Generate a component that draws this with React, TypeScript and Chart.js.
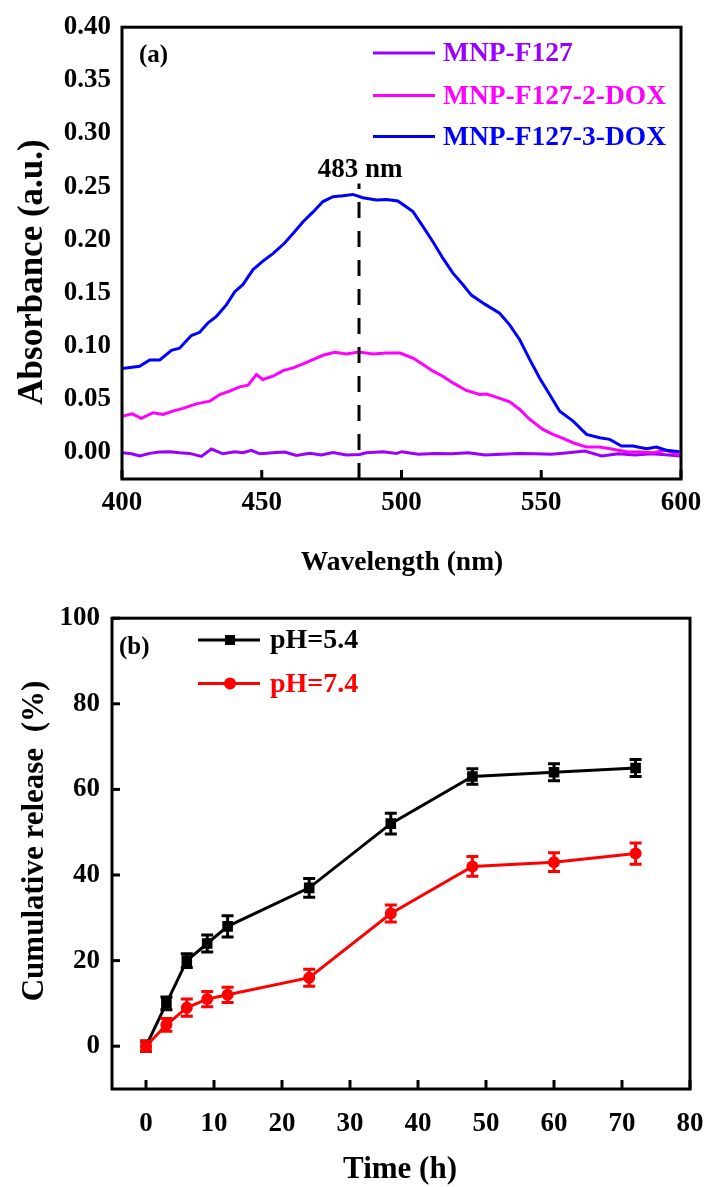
import React, { useEffect, useRef } from "react";
import { Chart, registerables } from "chart.js";
Chart.register(...registerables);

const FONT = "'Liberation Serif', 'Times New Roman', serif";

// ---------- Panel (a): UV-vis spectra ----------
const wlF127 = [400, 403.4, 406.3, 409.9, 413.5, 417.1, 420.6, 424.2, 428.4, 432.0, 436.1, 440.3, 443.3, 446.3, 449.3, 454.0, 458.2, 462.4, 467.2, 471.3, 475.5, 480.3, 485.0, 487.4, 493.4, 498.2, 500.1, 506.0, 512.0, 518.0, 523.9, 529.9, 535.8, 541.8, 547.8, 553.7, 559.7, 565.6, 571.6, 577.6, 583.5, 589.5, 595.5, 599.9];
const absF127 = [-0.0003, -0.0013, -0.0034, -0.0009, 0.0003, 0.0006, -0.0003, -0.0009, -0.0037, 0.0032, -0.0013, 0.0006, -0.0003, 0.0019, -0.0013, -0.0003, 0.0003, -0.0028, -0.0009, -0.0025, 0.0, -0.0025, -0.0019, -0.0003, 0.0006, -0.0009, 0.0007, -0.0018, -0.0009, -0.0012, -0.0003, -0.0024, -0.0018, -0.0009, -0.0012, -0.0018, -0.0003, 0.0013, -0.0034, -0.0012, -0.0024, -0.0012, -0.0024, -0.0034];

const wl2DOX = [400, 403.7, 406.9, 411.1, 414.7, 418.2, 421.8, 426.6, 431.4, 435.0, 438.5, 442.1, 445.1, 448.1, 450.4, 454.0, 457.6, 461.2, 464.8, 468.3, 471.9, 476.1, 480.3, 484.8, 489.8, 494.6, 499.5, 504.1, 507.7, 511.3, 514.8, 518.4, 523.2, 528.0, 530.4, 533.9, 538.7, 542.3, 545.9, 550.6, 554.2, 557.8, 561.4, 566.2, 570.9, 575.7, 580.5, 585.2, 590.0, 594.7, 599.5];
const abs2DOX = [0.0341, 0.0363, 0.032, 0.0373, 0.0357, 0.0388, 0.0414, 0.0457, 0.0482, 0.0545, 0.0576, 0.0617, 0.0632, 0.0733, 0.0686, 0.0717, 0.077, 0.0795, 0.0832, 0.0873, 0.0914, 0.0942, 0.0926, 0.0945, 0.0926, 0.0935, 0.0935, 0.0888, 0.0826, 0.0764, 0.0717, 0.0654, 0.0583, 0.0545, 0.055, 0.052, 0.0476, 0.0404, 0.031, 0.0217, 0.017, 0.0132, 0.0091, 0.005, 0.005, 0.003, 0.0007, 0.0005, -0.0003, 0.002, -0.0025];

const wl3DOX = [400.1, 406.3, 409.9, 413.5, 417.7, 420.6, 424.8, 427.8, 430.8, 433.8, 437.4, 440.3, 443.3, 446.9, 450.4, 454.0, 458.2, 461.2, 464.8, 468.3, 471.9, 475.5, 479.1, 482.6, 486.2, 491.0, 494.6, 498.7, 502.3, 504.1, 507.7, 511.3, 514.8, 518.4, 522.0, 525.0, 529.8, 535.1, 538.7, 542.3, 545.9, 549.4, 553.0, 556.6, 561.4, 566.2, 570.9, 574.5, 578.7, 582.8, 587.6, 591.2, 594.7, 599.5];
const abs3DOX = [0.079, 0.081, 0.087, 0.087, 0.096, 0.098, 0.11, 0.113, 0.122, 0.128, 0.139, 0.151, 0.158, 0.172, 0.18, 0.187, 0.197, 0.206, 0.217, 0.226, 0.236, 0.2405, 0.2415, 0.2427, 0.2396, 0.2374, 0.238, 0.2365, 0.23, 0.2265, 0.2124, 0.198, 0.1827, 0.1686, 0.1577, 0.148, 0.1395, 0.131, 0.12, 0.106, 0.0873, 0.07, 0.0545, 0.0388, 0.0295, 0.017, 0.0138, 0.0123, 0.006, 0.006, 0.0035, 0.005, 0.002, 0.0007];

const namesA = ["MNP-F127", "MNP-F127-2-DOX", "MNP-F127-3-DOX"];
const colorsA = ["#9a00ff", "#ff00ff", "#0000ff"];
const xTicksA = [400, 450, 500, 550, 600];
const yTicksA = [0, 0.05, 0.1, 0.15, 0.2, 0.25, 0.3, 0.35, 0.4];
const xRangeA = [400, 600];
const yRangeA = [-0.025, 0.4];
const peakX = [484.8, 484.8];
const peakY = [-0.025, 0.253];
const peakLabel = "483 nm";

// ---------- Panel (b): drug release ----------
const timeH = [0, 3, 6, 9, 12, 24, 36, 48, 60, 72];
const releasePH54 = [0, 10, 20, 24, 28, 37, 52, 63, 64, 65];
const errPH54 = [1.2, 1.5, 1.6, 2.0, 2.5, 2.2, 2.4, 1.8, 2.0, 2.0];
const releasePH74 = [0, 5, 9, 11, 12, 16, 31, 42, 43, 45];
const errPH74 = [1.2, 1.5, 2.0, 1.8, 1.8, 2.0, 2.0, 2.3, 2.2, 2.5];
const namesB = ["pH=5.4", "pH=7.4"];
const xTicksB = [0, 10, 20, 30, 40, 50, 60, 70, 80];
const yTicksB = [0, 20, 40, 60, 80, 100];
const xRangeB = [-5, 80];
const yRangeB = [-10, 100];

function text(ctx: CanvasRenderingContext2D, s: string, x: number, y: number, size: number, color = "#000", align: CanvasTextAlign = "left", rot = 0) {
  ctx.save();
  ctx.font = `bold ${size}px ${FONT}`;
  ctx.fillStyle = color;
  ctx.textAlign = align;
  ctx.textBaseline = "middle";
  ctx.translate(x, y);
  if (rot) ctx.rotate(rot);
  ctx.fillText(s, 0, 0);
  ctx.restore();
}

function frameAndTicks(chart: any, xLen: number, yLen: number) {
  const ctx = chart.ctx as CanvasRenderingContext2D;
  const a = chart.chartArea;
  const xs = chart.scales.x;
  const ys = chart.scales.y;
  ctx.save();
  ctx.strokeStyle = "#000";
  ctx.lineWidth = 3;
  if (xLen > 0) {
    for (const t of xs.ticks) {
      const px = xs.getPixelForValue(t.value);
      ctx.beginPath();
      ctx.moveTo(px, a.bottom);
      ctx.lineTo(px, a.bottom - xLen);
      ctx.stroke();
    }
  }
  if (yLen > 0) {
    for (const t of ys.ticks) {
      const py = ys.getPixelForValue(t.value);
      ctx.beginPath();
      ctx.moveTo(a.left, py);
      ctx.lineTo(a.left + yLen, py);
      ctx.stroke();
    }
  }
  ctx.strokeRect(a.left, a.top, a.right - a.left, a.bottom - a.top);
  ctx.restore();
}

const noPad = (s: any) => {
  s.paddingLeft = 0;
  s.paddingRight = 0;
};

function ChartA() {
  const ref = useRef<HTMLCanvasElement>(null);
  useEffect(() => {
    const toPts = (xs: number[], ys: number[]) => xs.map((x, i) => ({ x, y: ys[i] }));
    const series = [toPts(wlF127, absF127), toPts(wl2DOX, abs2DOX), toPts(wl3DOX, abs3DOX)];
    const plugin = {
      id: "decorA",
      afterDraw(chart: any) {
        const ctx = chart.ctx as CanvasRenderingContext2D;
        frameAndTicks(chart, 9, 0);
        const rows = [53, 95.5, 136.5];
        rows.forEach((y, i) => {
          ctx.save();
          ctx.strokeStyle = colorsA[i];
          ctx.lineWidth = 3;
          ctx.beginPath();
          ctx.moveTo(373, y);
          ctx.lineTo(435, y);
          ctx.stroke();
          ctx.restore();
          text(ctx, namesA[i], 443, y + 1, 27.5, colorsA[i]);
        });
        text(ctx, "(a)", 139, 56, 25);
        const xs = chart.scales.x;
        text(ctx, peakLabel, xs.getPixelForValue(peakX[0]) + 1, 170, 27, "#000", "center");
        text(ctx, "Absorbance (a.u.)", 33, 272, 35, "#000", "center", -Math.PI / 2);
        text(ctx, "Wavelength (nm)", 402, 563, 27.5, "#000", "center");
      },
    };
    const chart = new Chart(ref.current!, {
      type: "line",
      data: {
        datasets: [
          ...series.map((d, i) => ({
            label: namesA[i],
            data: d,
            borderColor: colorsA[i],
            borderWidth: 3,
            pointRadius: 0,
            tension: 0,
            order: 3 - i,
          })),
          {
            label: "peak",
            data: toPts(peakX, peakY),
            borderColor: "#000",
            borderWidth: 3,
            borderDash: [16, 13],
            pointRadius: 0,
            order: 0,
          },
        ],
      },
      options: {
        animation: false,
        responsive: false,
        events: [],
        layout: { padding: { left: 0, top: 25, right: 23, bottom: 0 } },
        plugins: { legend: { display: false }, tooltip: { enabled: false } },
        scales: {
          x: {
            type: "linear",
            min: xRangeA[0],
            max: xRangeA[1],
            grid: { display: false, drawTicks: false },
            border: { display: false },
            afterBuildTicks: (s: any) => { s.ticks = xTicksA.map((v) => ({ value: v })); },
            afterFit: (s: any) => { s.height = 111; noPad(s); },
            ticks: { color: "#000", padding: 8, font: { family: FONT, size: 27, weight: "bold" }, callback: (v: any) => String(v), maxRotation: 0 },
          },
          y: {
            type: "linear",
            min: yRangeA[0],
            max: yRangeA[1],
            grid: { display: false, drawTicks: false },
            border: { display: false },
            afterBuildTicks: (s: any) => { s.ticks = yTicksA.map((v) => ({ value: v })); },
            afterFit: (s: any) => { s.width = 122; },
            ticks: { color: "#000", padding: 11, font: { family: FONT, size: 27, weight: "bold" }, callback: (v: any) => Number(v).toFixed(2) },
          },
        },
      },
      plugins: [plugin],
    } as any);
    return () => chart.destroy();
  }, []);
  return <canvas ref={ref} width={704} height={590} style={{ position: "absolute", left: 0, top: 0, width: 704, height: 590 }} />;
}

function ChartB() {
  const ref = useRef<HTMLCanvasElement>(null);
  useEffect(() => {
    const pts = (ys: number[]) => timeH.map((x, i) => ({ x, y: ys[i] }));
    const errs = [errPH54, errPH74];
    const vals = [releasePH54, releasePH74];
    const cols = ["#000000", "#ff0000"];
    const plugin = {
      id: "decorB",
      afterDatasetDraw(chart: any, args: any) {
        const i = args.index;
        const ctx = chart.ctx as CanvasRenderingContext2D;
        const xs = chart.scales.x;
        const ys = chart.scales.y;
        ctx.save();
        ctx.strokeStyle = cols[i];
        ctx.lineWidth = 3;
        timeH.forEach((t, k) => {
          const px = xs.getPixelForValue(t);
          const top = ys.getPixelForValue(vals[i][k] + errs[i][k]);
          const bot = ys.getPixelForValue(vals[i][k] - errs[i][k]);
          ctx.beginPath();
          ctx.moveTo(px, top);
          ctx.lineTo(px, bot);
          ctx.moveTo(px - 6, top);
          ctx.lineTo(px + 6, top);
          ctx.moveTo(px - 6, bot);
          ctx.lineTo(px + 6, bot);
          ctx.stroke();
        });
        ctx.restore();
      },
      afterDraw(chart: any) {
        const ctx = chart.ctx as CanvasRenderingContext2D;
        frameAndTicks(chart, 9, 8);
        const rows = [50, 93.5];
        rows.forEach((y, i) => {
          ctx.save();
          ctx.strokeStyle = cols[i];
          ctx.fillStyle = cols[i];
          ctx.lineWidth = 3;
          ctx.beginPath();
          ctx.moveTo(198, y);
          ctx.lineTo(260, y);
          ctx.stroke();
          ctx.beginPath();
          if (i === 0) ctx.rect(225, y - 5, 10, 10);
          else ctx.arc(230, y, 6, 0, Math.PI * 2);
          ctx.fill();
          ctx.restore();
          text(ctx, namesB[i], 270, y + 1, 28, cols[i]);
        });
        text(ctx, "(b)", 119, 58, 25);
        text(ctx, "Cumulative release  (%)", 35, 251, 31, "#000", "center", -Math.PI / 2);
        text(ctx, "Time (h)", 400, 580, 31, "#000", "center");
      },
    };
    const chart = new Chart(ref.current!, {
      type: "line",
      data: {
        datasets: [
          {
            label: namesB[0],
            data: pts(releasePH54),
            borderColor: cols[0],
            backgroundColor: cols[0],
            borderWidth: 3,
            pointStyle: "rect",
            pointRadius: 7.5,
            pointBorderWidth: 0,
            tension: 0,
            order: 1,
          },
          {
            label: namesB[1],
            data: pts(releasePH74),
            borderColor: cols[1],
            backgroundColor: cols[1],
            borderWidth: 3,
            pointStyle: "circle",
            pointRadius: 6,
            pointBorderWidth: 0,
            tension: 0,
            order: 0,
          },
        ],
      },
      options: {
        animation: false,
        responsive: false,
        events: [],
        layout: { padding: { left: 0, top: 19, right: 14, bottom: 0 } },
        plugins: { legend: { display: false }, tooltip: { enabled: false } },
        scales: {
          x: {
            type: "linear",
            min: xRangeB[0],
            max: xRangeB[1],
            grid: { display: false, drawTicks: false },
            border: { display: false },
            afterBuildTicks: (s: any) => { s.ticks = xTicksB.map((v) => ({ value: v })); },
            afterFit: (s: any) => { s.height = 98; noPad(s); },
            ticks: { color: "#000", padding: 19, font: { family: FONT, size: 27, weight: "bold" }, callback: (v: any) => String(v), maxRotation: 0 },
          },
          y: {
            type: "linear",
            min: yRangeB[0],
            max: yRangeB[1],
            grid: { display: false, drawTicks: false },
            border: { display: false },
            afterBuildTicks: (s: any) => { s.ticks = yTicksB.map((v) => ({ value: v })); },
            afterFit: (s: any) => { s.width = 112; },
            ticks: { color: "#000", padding: 12, font: { family: FONT, size: 27, weight: "bold" }, callback: (v: any) => String(v) },
          },
        },
      },
      plugins: [plugin],
    } as any);
    return () => chart.destroy();
  }, []);
  return <canvas ref={ref} width={704} height={597} style={{ position: "absolute", left: 0, top: 590, width: 704, height: 597 }} />;
}

export default function App() {
  return (
    <div style={{ position: "absolute", left: 0, top: 0, width: 704, height: 1187, background: "#fff" }}>
      <ChartA />
      <ChartB />
    </div>
  );
}
